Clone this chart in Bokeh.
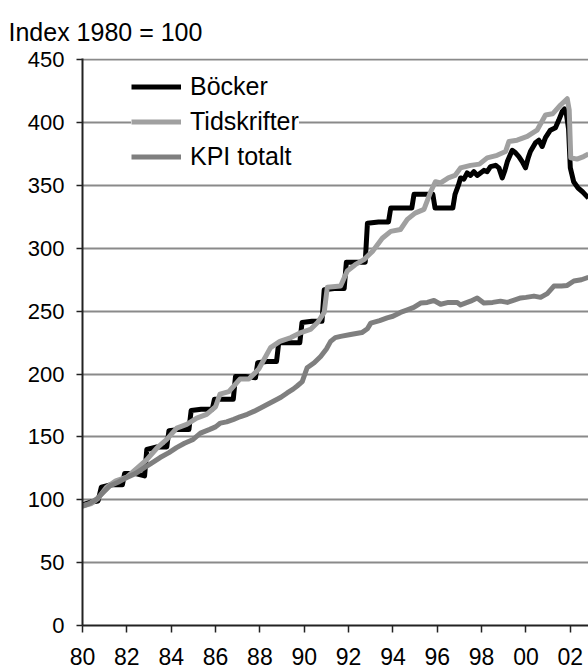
from bokeh.plotting import figure
from bokeh.models import Range1d, FixedTicker, Legend, LegendItem
from bokeh.embed import file_html
from bokeh.resources import INLINE

# ---------------- data ----------------
bocker_x = [1980.0, 1980.35, 1980.7, 1980.85, 1981.3, 1981.8, 1981.9, 1982.35, 1982.8, 1982.9,
            1983.35, 1983.8, 1983.9, 1984.35, 1984.8, 1984.9, 1985.35, 1985.85, 1985.95, 1986.35,
            1986.8, 1986.9, 1987.35, 1987.8, 1987.9, 1988.3, 1988.75, 1988.85, 1989.3, 1989.8,
            1989.9, 1990.35, 1990.8, 1990.9, 1991.35, 1991.8, 1991.9, 1992.3, 1992.75, 1992.85,
            1993.35, 1993.8, 1993.9, 1994.4, 1994.85, 1994.95, 1995.4, 1995.8, 1995.9, 1996.3,
            1996.7, 1996.8, 1996.95, 1997.05, 1997.2, 1997.35, 1997.5, 1997.65, 1997.8, 1997.95,
            1998.1, 1998.25, 1998.4, 1998.63, 1998.78, 1998.93, 1999.05, 1999.16, 1999.38, 1999.53,
            1999.68, 1999.83, 1999.98, 2000.1, 2000.2, 2000.43, 2000.58, 2000.73, 2000.88, 2001.1,
            2001.33, 2001.48, 2001.64, 2001.74, 2001.83, 2001.92, 2002.0, 2002.15, 2002.35, 2002.55,
            2002.82]
bocker = [96, 98, 99, 110, 112, 112, 121, 121, 119, 140,
          142, 142, 155, 156, 156, 171, 172, 172, 180, 180,
          180, 198, 198, 197, 209, 210, 210, 225, 225, 225,
          241, 242, 242, 267, 268, 268, 289, 289, 289, 320,
          321, 321, 332, 332, 332, 343, 343, 343, 332, 332,
          332, 343, 350, 356, 355, 360, 358, 361, 358, 360,
          362, 361, 365, 366, 364, 356, 362, 369, 378, 376,
          373, 369, 364, 372, 377, 384, 386, 381, 388, 394,
          396, 402, 409, 411, 406, 395, 364, 353, 348, 345,
          340]

tidskr_x = [1980.0, 1980.4, 1980.7, 1981.08, 1981.5, 1982.0, 1982.45, 1982.9, 1983.35, 1983.8,
            1984.25, 1984.7, 1985.15, 1985.6, 1986.0, 1986.2, 1986.6, 1987.1, 1987.5, 1987.95,
            1988.48, 1988.9, 1989.4, 1989.85, 1990.28, 1990.6, 1990.9, 1991.04, 1991.64, 1991.94,
            1992.3, 1992.69, 1993.1, 1993.52, 1993.9, 1994.34, 1994.65, 1995.0, 1995.4, 1995.7,
            1995.92, 1996.15, 1996.5, 1996.8, 1997.05, 1997.5, 1997.9, 1998.25, 1998.7, 1999.08,
            1999.23, 1999.6, 2000.06, 2000.5, 2000.88, 2001.2, 2001.56, 2001.86, 2001.95, 2002.02,
            2002.3, 2002.6, 2002.82]
tidskr = [95, 97, 101, 110, 115, 118, 125, 132, 141, 148,
          157, 160, 165, 168, 174, 184, 186, 196, 196, 204,
          221, 226, 229, 233, 235.5, 241, 249, 269, 270, 282,
          287, 291, 298, 308, 313.5, 315, 323, 328, 331, 345,
          353, 352, 356, 358, 364, 366, 367, 372, 374, 377,
          385, 386, 389, 394, 406, 407, 414, 419, 410, 372,
          371, 373, 375]

kpi_x = [1980.0, 1980.3, 1980.63, 1981.0, 1981.23, 1981.6, 1982.0, 1982.4, 1982.74, 1983.1,
         1983.5, 1983.9, 1984.24, 1984.6, 1984.99, 1985.32, 1985.74, 1986.0, 1986.22, 1986.5,
         1986.82, 1987.1, 1987.43, 1987.75, 1988.03, 1988.35, 1988.63, 1988.95, 1989.23, 1989.5,
         1989.68, 1989.91, 1990.13, 1990.45, 1990.74, 1991.0, 1991.19, 1991.4, 1991.64, 1992.09,
         1992.6, 1992.85, 1993.0, 1993.4, 1993.74, 1994.0, 1994.34, 1994.65, 1994.94, 1995.25,
         1995.55, 1995.85, 1996.15, 1996.5, 1996.9, 1997.05, 1997.5, 1997.8, 1998.1, 1998.5,
         1998.85, 1999.16, 1999.5, 1999.76, 2000.0, 2000.36, 2000.66, 2000.96, 2001.26, 2001.6,
         2001.86, 2002.16, 2002.5, 2002.82]
kpi = [95, 97, 100.5, 107, 111, 114, 117.7, 121, 125, 129,
       133.6, 137.5, 141.5, 145, 148, 153, 156, 158, 161, 162,
       164, 166, 168, 170.5, 173, 176, 178.6, 181.5, 185, 188,
       190.5, 194, 205, 209, 214, 220, 226, 229, 230, 231.5,
       233, 236, 240.5, 242.5, 244.7, 246, 249, 251, 253, 256.5,
       257, 258.5, 255.5, 257, 257, 255, 258, 260.5, 256.5, 257,
       258, 257, 259, 260.5, 261, 262, 261, 264, 270, 270,
       270.5, 274, 275, 277]

series_names = ["Böcker", "Tidskrifter", "KPI totalt"]
y_ticks = [0, 50, 100, 150, 200, 250, 300, 350, 400, 450]
x_ticks = [1980, 1982, 1984, 1986, 1988, 1990, 1992, 1994, 1996, 1998, 2000, 2002]
x_tick_labels = ["80", "82", "84", "86", "88", "90", "92", "94", "96", "98", "00", "02"]
title_text = "Index 1980 = 100"

assert len(bocker_x) == len(bocker)
assert len(tidskr_x) == len(tidskr)
assert len(kpi_x) == len(kpi)

FONT = "Liberation Sans"

p = figure(width=588, height=668,
           x_range=Range1d(1980, 2002.82), y_range=Range1d(0, 451),
           output_backend="svg", toolbar_location=None,
           min_border_left=82, min_border_right=0, min_border_top=58, min_border_bottom=43)

p.outline_line_color = None
p.background_fill_color = "white"
p.border_fill_color = "white"

# title
p.title.text = title_text
p.title.align = "left"
p.title.offset = -74
p.title.standoff = 25
p.title.text_font = FONT
p.title.text_font_size = "25px"
p.title.text_font_style = "normal"
p.title.text_color = "black"

# grid
p.xgrid.grid_line_color = None
p.ygrid.grid_line_color = "#8a8a8a"
p.ygrid.grid_line_width = 2
p.ygrid.ticker = FixedTicker(ticks=y_ticks)

# axes
p.yaxis.ticker = FixedTicker(ticks=y_ticks)
p.xaxis.ticker = FixedTicker(ticks=x_ticks)
p.xaxis.major_label_overrides = {t: l for t, l in zip(x_ticks, x_tick_labels)}
for ax in (p.xaxis[0], p.yaxis[0]):
    ax.axis_line_color = "#222222"
    ax.axis_line_width = 2
    ax.major_tick_line_color = "#222222"
    ax.major_tick_line_width = 1.5
    ax.major_tick_in = 0
    ax.minor_tick_line_color = None
    ax.major_label_text_font = FONT
    ax.major_label_text_color = "black"
p.yaxis.major_tick_out = 6
p.yaxis.major_label_standoff = 12
p.yaxis.major_label_text_font_size = "22px"
p.xaxis.major_tick_out = 7
p.xaxis.major_label_standoff = 15
p.xaxis.major_label_text_line_height = 0.85
p.xaxis.major_label_text_font_size = "23px"

# lines
r_b = p.line(bocker_x, bocker, line_color="black", line_width=5, line_join="round")
r_t = p.line(tidskr_x, tidskr, line_color="#a0a0a0", line_width=5, line_join="round")
r_k = p.line(kpi_x, kpi, line_color="#7f7f7f", line_width=5, line_join="round")

legend = Legend(items=[LegendItem(label=series_names[0], renderers=[r_b]),
                       LegendItem(label=series_names[1], renderers=[r_t]),
                       LegendItem(label=series_names[2], renderers=[r_k])],
                location=(49, 454))
legend.background_fill_color = "white"
legend.background_fill_alpha = 1.0
legend.border_line_color = None
legend.label_text_font = FONT
legend.label_text_font_size = "25px"
legend.label_text_color = "black"
legend.glyph_width = 50
legend.glyph_height = 29
legend.label_height = 29
legend.label_standoff = 9
legend.spacing = 6
legend.padding = 8
legend.margin = 0
p.add_layout(legend, "center")

open("out.html", "w").write(file_html(p, INLINE))
